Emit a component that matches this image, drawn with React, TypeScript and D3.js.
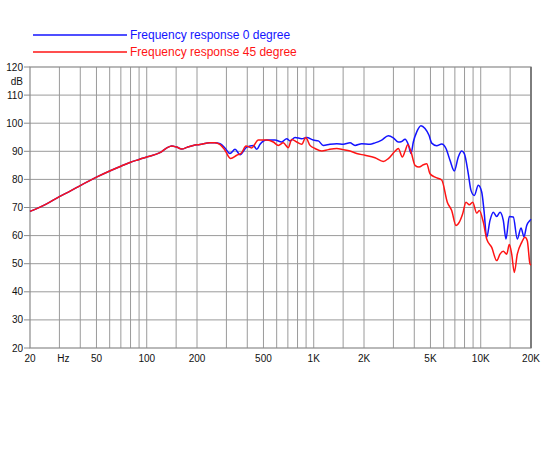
import { useEffect, useRef } from "react";
import * as d3 from "d3";

// frequency (Hz) / level (dB) pairs
const shared: [number, number][] = [
  [20, 68.6], [25, 71.2], [30, 73.9], [35, 75.9], [40, 77.8], [50, 80.8],
  [60, 83.0], [70, 84.7], [80, 86.1], [90, 87.1], [100, 88.0], [105, 88.3],
  [120, 89.5], [132, 91.2], [141, 91.9], [151, 91.5], [162, 90.8], [174, 91.4],
  [190, 92.1], [208, 92.4], [239, 93.0], [256, 93.0],
];

const blueTail: [number, number][] = [
  [275, 92.7], [294, 91.2], [315, 89.2], [338, 90.7], [362, 88.8], [397, 91.5],
  [435, 92.1], [456, 90.7], [477, 92.5], [523, 94.0], [586, 94.0], [643, 93.3],
  [689, 94.5], [721, 93.7], [773, 94.9], [847, 94.5], [908, 94.9], [994, 94.0],
  [1065, 93.7], [1141, 92.1], [1252, 92.5], [1373, 92.7], [1503, 92.5],
  [1649, 93.0], [1767, 92.1], [1938, 92.7], [2173, 92.5], [2328, 93.0],
  [2553, 94.0], [2796, 95.5], [2996, 94.8], [3210, 93.3], [3364, 93.5],
  [3522, 94.3], [3685, 92.4], [3824, 89.2], [3948, 93.3], [4138, 96.9],
  [4389, 99.1], [4638, 98.1], [4900, 95.7], [5087, 92.9], [5450, 92.0],
  [5839, 92.6], [6194, 91.0], [6546, 86.8], [6947, 83.0], [7342, 88.0],
  [7691, 90.1], [7974, 89.2], [8426, 82.0], [8744, 76.1], [9152, 74.3],
  [9670, 77.9], [10135, 75.5], [10462, 68.9], [10858, 59.4], [11364, 65.4],
  [11893, 68.3], [12464, 66.8], [13044, 68.3], [13651, 65.4], [14168, 58.8],
  [14830, 66.8], [15668, 66.6], [16557, 58.8], [17424, 62.7], [18159, 59.6],
  [18851, 63.6], [19727, 65.4], [20000, 65.8],
];

const redTail: [number, number][] = [
  [275, 92.4], [294, 90.4], [318, 87.4], [346, 88.6], [370, 89.5], [393, 91.9],
  [425, 91.2], [466, 94.0], [523, 94.0], [573, 93.3], [614, 92.1], [657, 93.0],
  [704, 91.3], [738, 94.2], [791, 93.3], [847, 92.5], [895, 94.9], [950, 92.1],
  [1018, 91.0], [1117, 90.1], [1223, 90.6], [1373, 91.0], [1503, 90.6],
  [1649, 90.1], [1808, 89.2], [2028, 88.6], [2328, 87.7], [2610, 86.4],
  [2796, 87.4], [3066, 90.0], [3210, 91.0], [3392, 88.0], [3522, 90.0],
  [3654, 92.3], [3824, 89.8], [4042, 85.0], [4270, 84.4], [4530, 85.2],
  [4748, 85.6], [4970, 82.0], [5325, 80.8], [5839, 79.8], [6308, 71.9],
  [6700, 68.9], [7110, 63.6], [7443, 64.8], [7798, 67.8], [8162, 71.9],
  [8542, 71.0], [8951, 71.9], [9460, 68.0], [9805, 68.9], [10362, 64.8],
  [10858, 58.8], [11637, 55.8], [12464, 51.1], [13044, 53.4], [13651, 54.4],
  [14306, 53.4], [14830, 56.8], [15326, 53.4], [15887, 46.9], [16557, 53.4],
  [17593, 57.6], [18413, 59.4], [19004, 58.2], [19727, 49.9], [20000, 49.5],
];

const series = [
  { name: "Frequency response 0 degree", color: "#1414ff", data: [...shared, ...blueTail] },
  { name: "Frequency response 45 degree", color: "#ff1414", data: [...shared, ...redTail] },
];

const gridFreqs = [
  30, 40, 50, 60, 70, 80, 90, 100, 150, 200, 300, 400, 500, 600, 700, 800, 900,
  1000, 1500, 2000, 3000, 4000, 5000, 6000, 7000, 8000, 9000, 10000, 15000,
];
const xLabels: [number, string][] = [
  [20, "20"], [50, "50"], [100, "100"], [200, "200"], [500, "500"],
  [1000, "1K"], [2000, "2K"], [5000, "5K"], [10000, "10K"], [20000, "20K"],
];
const yTicks = [120, 110, 100, 90, 80, 70, 60, 50, 40, 30, 20];

export default function App() {
  const svgRef = useRef<SVGSVGElement>(null);

  useEffect(() => {
    if (!svgRef.current) return;
    const svg = d3.select(svgRef.current);
    svg.selectAll("*").remove();

    const left = 30, right = 531, top = 67, bottom = 348;
    const x = d3.scaleLog().domain([20, 20000]).range([left, right]);
    const y = d3.scaleLinear().domain([20, 120]).range([bottom, top]);
    const font = "'Liberation Sans', Arial, Helvetica, sans-serif";

    // grid
    svg.append("g")
      .selectAll("line")
      .data(gridFreqs)
      .join("line")
      .attr("x1", (d) => x(d))
      .attr("x2", (d) => x(d))
      .attr("y1", top)
      .attr("y2", bottom)
      .attr("stroke", "#9a9a9a")
      .attr("stroke-width", 1);
    svg.append("g")
      .selectAll("line")
      .data(yTicks.slice(1, -1))
      .join("line")
      .attr("x1", left)
      .attr("x2", right)
      .attr("y1", (d) => y(d))
      .attr("y2", (d) => y(d))
      .attr("stroke", "#9a9a9a")
      .attr("stroke-width", 1);

    // frame
    svg.append("rect")
      .attr("x", left)
      .attr("y", top)
      .attr("width", right - left)
      .attr("height", bottom - top)
      .attr("fill", "none")
      .attr("stroke", "#8a8a8a")
      .attr("stroke-width", 1.2);
    svg.append("line")
      .attr("x1", right).attr("x2", right)
      .attr("y1", top).attr("y2", bottom)
      .attr("stroke", "#777").attr("stroke-width", 1.8);

    // y ticks + labels
    const yg = svg.append("g");
    yg.selectAll("line")
      .data(yTicks)
      .join("line")
      .attr("x1", left - 6)
      .attr("x2", left)
      .attr("y1", (d) => y(d))
      .attr("y2", (d) => y(d))
      .attr("stroke", "#8a8a8a");
    yg.selectAll("text")
      .data(yTicks)
      .join("text")
      .attr("x", left - 7)
      .attr("y", (d) => y(d))
      .attr("dy", "0.35em")
      .attr("text-anchor", "end")
      .style("font", `10px ${font}`)
      .style("fill", "#111")
      .text((d) => d);
    svg.append("text")
      .attr("x", left - 7)
      .attr("y", y(115))
      .attr("dy", "0.35em")
      .attr("text-anchor", "end")
      .style("font", `10px ${font}`)
      .style("fill", "#111")
      .text("dB");

    // x labels
    svg.append("g")
      .selectAll("text")
      .data(xLabels)
      .join("text")
      .attr("x", (d) => x(d[0]))
      .attr("y", bottom + 14)
      .attr("text-anchor", "middle")
      .style("font", `10px ${font}`)
      .style("fill", "#111")
      .text((d) => d[1]);
    svg.append("text")
      .attr("x", x(30) + 4)
      .attr("y", bottom + 14)
      .attr("text-anchor", "middle")
      .style("font", `10px ${font}`)
      .style("fill", "#111")
      .text("Hz");

    // curves
    const line = d3
      .line<[number, number]>()
      .x((d) => x(d[0]))
      .y((d) => y(d[1]))
      .curve(d3.curveMonotoneX);
    svg.append("g")
      .selectAll("path")
      .data(series)
      .join("path")
      .attr("d", (d) => line(d.data))
      .attr("fill", "none")
      .attr("stroke", (d) => d.color)
      .attr("stroke-width", 1.5)
      .attr("stroke-linejoin", "round");

    // legend
    const lg = svg.append("g")
      .selectAll("g")
      .data(series)
      .join("g")
      .attr("transform", (_, i) => `translate(0,${35 + i * 17})`);
    lg.append("line")
      .attr("x1", 33)
      .attr("x2", 127)
      .attr("stroke", (d) => d.color)
      .attr("stroke-width", 1.3);
    lg.append("text")
      .attr("x", 130)
      .attr("dy", "0.35em")
      .style("font", `12px ${font}`)
      .style("fill", (d) => d.color)
      .text((d) => d.name);
  }, []);

  return (
    <div style={{ position: "absolute", left: 0, top: 0 }}>
      <svg ref={svgRef} width={550} height={450} style={{ display: "block", background: "#fff" }} />
    </div>
  );
}
